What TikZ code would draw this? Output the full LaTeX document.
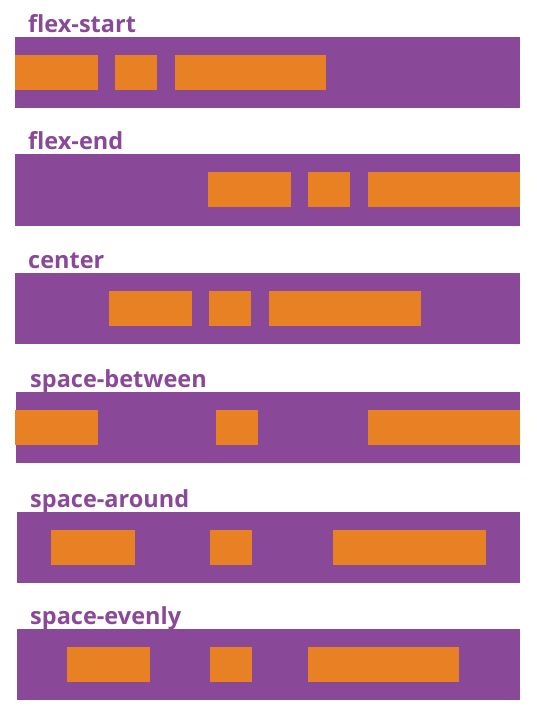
\documentclass[tikz,border=0pt]{standalone}
\usepackage{fontspec}
\setmainfont{Open Sans}
\definecolor{flexpurple}{HTML}{8A4899}
\definecolor{flexorange}{HTML}{E78123}
\begin{document}
\begin{tikzpicture}[x=1pt,y=-1pt,
  bar/.style={fill=flexpurple,draw=none},
  item/.style={fill=flexorange,draw=none},
  lbl/.style={anchor=base west,inner sep=0pt,text=flexpurple,font=\fontsize{23.5}{28}\selectfont\bfseries}]
\useasboundingbox (0,0) rectangle (536,717);
% row 1
\node[lbl] (l1) at (28,33) {flex-start};
\path[bar] (15,37) rectangle (520,108);
\path[item] (15,55) rectangle (98,90);
\path[item] (115,55) rectangle (157,90);
\path[item] (175,55) rectangle (326,90);
% row 2
\node[lbl] (l2) at (28,149) {flex-end};
\path[bar] (15,154) rectangle (520,226);
\path[item] (208,172) rectangle (291,207);
\path[item] (308,172) rectangle (350,207);
\path[item] (368,172) rectangle (520,207);
% row 3
\node[lbl] (l3) at (28,268) {center};
\path[bar] (15,273) rectangle (520,344);
\path[item] (109,291) rectangle (192,326);
\path[item] (209,291) rectangle (251,326);
\path[item] (269,291) rectangle (421,326);
% row 4
\node[lbl] (l4) at (30,387) {space-between};
\path[bar] (16,392) rectangle (520,463);
\path[item] (15,410) rectangle (98,445);
\path[item] (216,410) rectangle (258,445);
\path[item] (368,410) rectangle (520,445);
% row 5
\node[lbl] (l5) at (30,507) {space-around};
\path[bar] (17,512) rectangle (520,583);
\path[item] (51,530) rectangle (135,565);
\path[item] (210,530) rectangle (252,565);
\path[item] (333,530) rectangle (486,565);
% row 6
\node[lbl] (l6) at (30,624) {space-evenly};
\path[bar] (17,629) rectangle (520,700);
\path[item] (67,647) rectangle (150,682);
\path[item] (210,647) rectangle (252,682);
\path[item] (308,647) rectangle (459,682);
\end{tikzpicture}
\end{document}
